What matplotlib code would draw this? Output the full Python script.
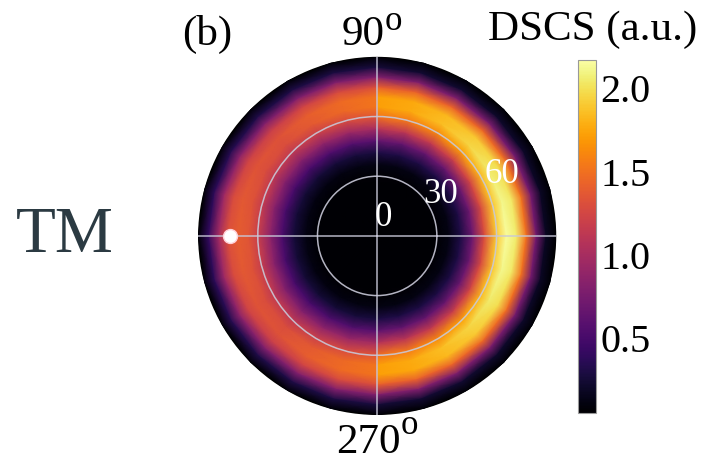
import numpy as np
import matplotlib
matplotlib.use("Agg")
import matplotlib.pyplot as plt

plt.rcParams['font.family'] = ['Liberation Serif', 'DejaVu Serif']

# polar angle theta (deg, radial coord) and azimuth phi (deg)
theta_deg = [0, 10, 20, 30, 36, 42, 48, 54, 60, 65, 70, 75, 80, 85, 90]

# right half, phi = 0..90 (upper quadrant; lower is mirror)
phi_right = [0, 15, 30, 45, 60, 75, 90]
dscs_right = [
    [0.02, 0.02, 0.03, 0.06, 0.12, 0.30, 0.70, 1.30, 1.90, 2.15, 2.05, 1.50, 0.72, 0.18, 0.03],
    [0.02, 0.02, 0.03, 0.06, 0.12, 0.30, 0.70, 1.28, 1.88, 2.12, 2.03, 1.50, 0.73, 0.19, 0.03],
    [0.02, 0.02, 0.03, 0.06, 0.12, 0.30, 0.69, 1.25, 1.82, 2.05, 1.98, 1.48, 0.74, 0.20, 0.03],
    [0.02, 0.02, 0.03, 0.06, 0.12, 0.30, 0.68, 1.20, 1.72, 1.95, 1.90, 1.45, 0.76, 0.21, 0.03],
    [0.02, 0.02, 0.03, 0.06, 0.12, 0.30, 0.67, 1.16, 1.62, 1.85, 1.83, 1.43, 0.78, 0.23, 0.03],
    [0.02, 0.02, 0.03, 0.06, 0.12, 0.30, 0.66, 1.12, 1.55, 1.77, 1.76, 1.41, 0.79, 0.24, 0.03],
    [0.02, 0.02, 0.03, 0.06, 0.12, 0.30, 0.65, 1.10, 1.50, 1.72, 1.72, 1.40, 0.80, 0.25, 0.03],
]

# left half, phi = 90..180
phi_left = [90, 105, 120, 135, 150, 165, 180]
dscs_left = [
    [0.02, 0.02, 0.03, 0.06, 0.12, 0.28, 0.60, 1.00, 1.35, 1.52, 1.52, 1.30, 0.80, 0.28, 0.03],
    [0.02, 0.02, 0.03, 0.06, 0.12, 0.27, 0.57, 0.95, 1.29, 1.46, 1.47, 1.27, 0.80, 0.29, 0.03],
    [0.02, 0.02, 0.03, 0.06, 0.11, 0.26, 0.54, 0.89, 1.21, 1.38, 1.40, 1.23, 0.80, 0.30, 0.03],
    [0.02, 0.02, 0.03, 0.05, 0.11, 0.25, 0.51, 0.84, 1.14, 1.30, 1.33, 1.20, 0.80, 0.31, 0.03],
    [0.02, 0.02, 0.03, 0.05, 0.11, 0.25, 0.51, 0.84, 1.14, 1.30, 1.34, 1.23, 0.85, 0.34, 0.04],
    [0.02, 0.02, 0.03, 0.05, 0.12, 0.26, 0.52, 0.86, 1.17, 1.33, 1.37, 1.28, 0.92, 0.37, 0.04],
    [0.02, 0.02, 0.03, 0.05, 0.12, 0.26, 0.53, 0.87, 1.19, 1.35, 1.39, 1.32, 0.96, 0.40, 0.04],
]

cbar_ticks = [0.5, 1.0, 1.5, 2.0]
vmin, vmax = 0.05, 2.17
dot_phi, dot_theta = 180, 74

# full halves: mirror the upper quadrant down
pr = np.array(phi_right, float)
zr = np.array(dscs_right)
phi_r = np.concatenate([-pr[:0:-1], pr])
z_r = np.concatenate([zr[:0:-1], zr])
pl = np.array(phi_left, float)
zl = np.array(dscs_left)
phi_l = np.concatenate([pl, 360 - pl[-2::-1]])
z_l = np.concatenate([zl, zl[-2::-1]])

fig = plt.figure(figsize=(7.05, 4.61), dpi=100)
ax = fig.add_axes([0.281, 0.0998, 0.508, 0.777], projection='polar')
ax.set_facecolor('black')

th = np.array(theta_deg, float)
for ph, z in [(phi_r, z_r), (phi_l, z_l)]:
    P, R = np.meshgrid(np.deg2rad(ph), th)
    mesh = ax.pcolormesh(P, R, z.T, shading='gouraud', cmap='inferno',
                         vmin=vmin, vmax=vmax, rasterized=True)

ax.set_ylim(0, 90)
ax.set_rgrids([30, 60], labels=['', ''])
ax.set_thetagrids([0, 90, 180, 270], labels=['', '', '', ''])
ax.grid(True, color='#c8c8d8', lw=1.1, alpha=0.9)
ax.spines['polar'].set_visible(False)

for lab, a, r in [('0', 72, 9.5), ('30', 33, 38), ('60', 26, 70)]:
    ax.text(np.deg2rad(a), r, lab, color='white', fontsize=25,
            ha='center', va='center')

ax.plot(np.deg2rad(dot_phi), dot_theta, 'o', ms=10, mfc='white',
        mec='#ffd0d8', mew=1.0, zorder=5)

# azimuth labels with raised "o"
fig.text(0.515, 0.902, '90', fontsize=31, ha='center', va='baseline')
fig.text(0.546, 0.935, 'o', fontsize=25, ha='left', va='baseline')
fig.text(0.523, 0.018, '270', fontsize=31, ha='center', va='baseline')
fig.text(0.568, 0.058, 'o', fontsize=25, ha='left', va='baseline')

cax = fig.add_axes([0.820, 0.104, 0.0255, 0.766])
cb = fig.colorbar(mesh, cax=cax, ticks=cbar_ticks)
cb.ax.tick_params(length=0, labelsize=29, pad=3)
cb.ax.set_yticklabels(['0.5', '1.0', '1.5', '2.0'])
cb.outline.set_edgecolor('#999999')
cb.outline.set_linewidth(0.8)

fig.text(0.841, 0.935, 'DSCS (a.u.)', fontsize=31, ha='center', va='center')
fig.text(0.294, 0.926, '(b)', fontsize=31, ha='center', va='center')
fig.text(0.092, 0.488, 'TM', fontsize=47, ha='center', va='center', color='#2b3a42')

fig.savefig('out.png', dpi=100)
